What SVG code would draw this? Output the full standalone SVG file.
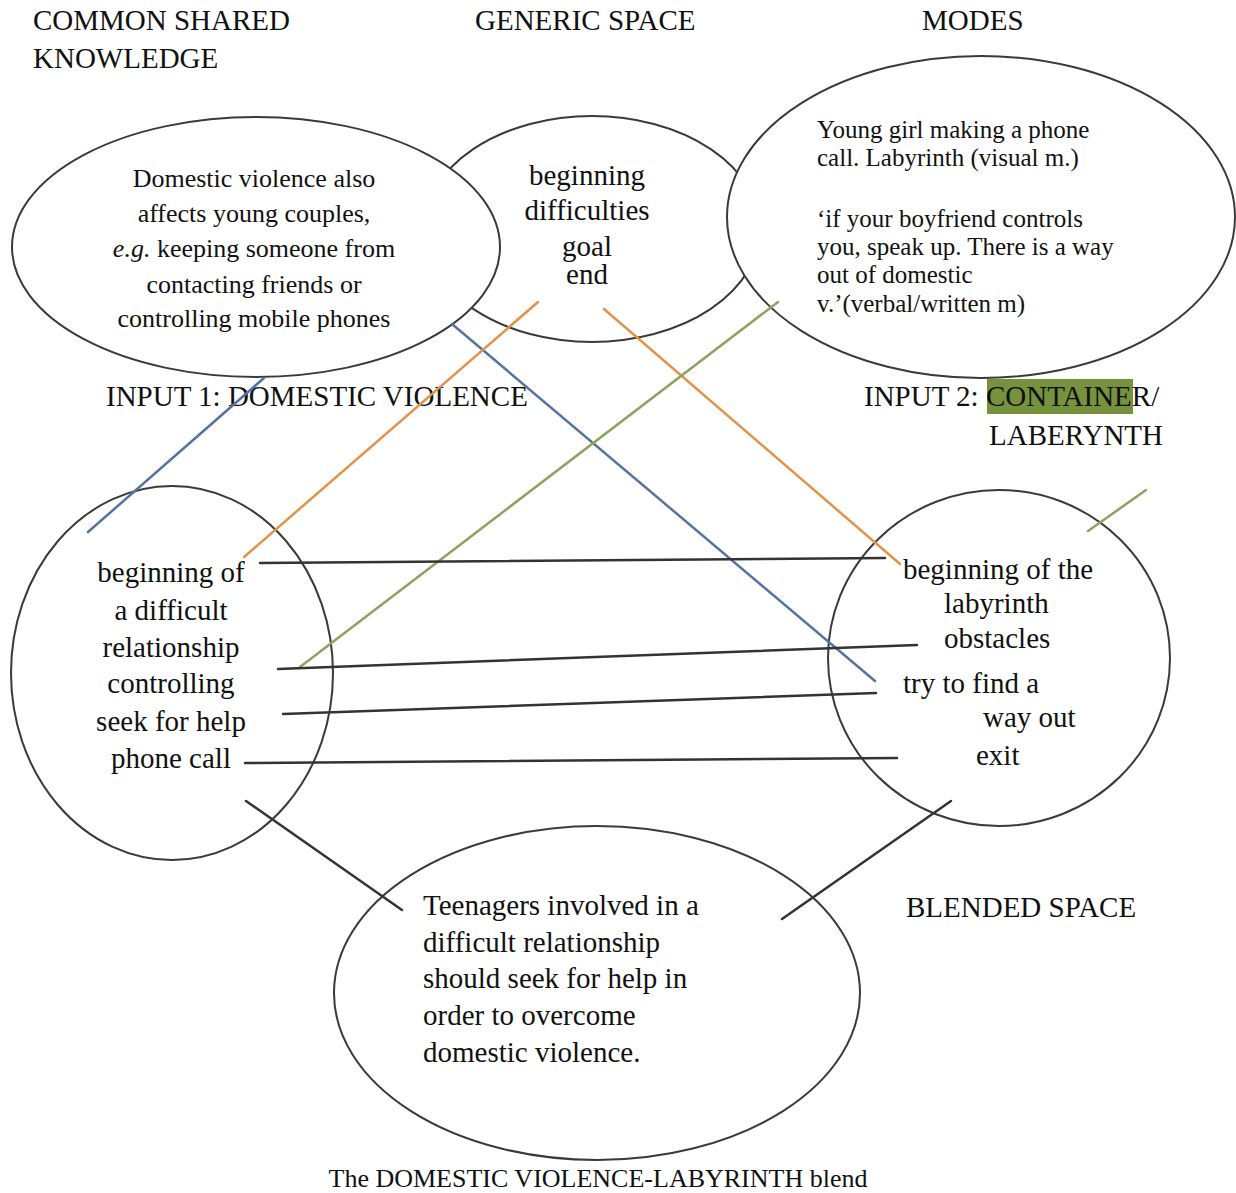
<svg xmlns="http://www.w3.org/2000/svg" width="1236" height="1193" viewBox="0 0 1236 1193">
  <style>
    text { font-family: "Liberation Serif", "Times New Roman", serif; fill: #111; }
    .h { font-size: 29px; }
    .t29 { font-size: 29px; }
    .t26 { font-size: 26px; }
    .t25 { font-size: 25px; }
    .mid { text-anchor: middle; }
    .space { fill: #fff; stroke: #3a3a3a; stroke-width: 2; }
    .link { fill: none; stroke: #333; stroke-width: 2.5; stroke-linecap: round; }
    .blue { stroke: #55739f; }
    .orange { stroke: #e3924a; }
    .green { stroke: #8fa25f; }
  </style>

  <rect width="1236" height="1193" fill="#fff"/>

  <!-- headings -->
  <g id="heading-common">
    <text class="h" x="33" y="30">COMMON SHARED</text>
    <text class="h" x="33" y="68">KNOWLEDGE</text>
  </g>
  <g id="heading-generic">
    <text class="h" x="475" y="30">GENERIC SPACE</text>
  </g>
  <g id="heading-modes">
    <text class="h" x="922" y="30">MODES</text>
  </g>

  <!-- generic space (drawn first so the inputs overlap it) -->
  <g id="generic-space">
    <ellipse class="space" cx="592" cy="229" rx="168" ry="113"/>
    <text class="t29 mid" x="587" y="185">beginning</text>
    <text class="t29 mid" x="587" y="220">difficulties</text>
    <text class="t29 mid" x="587" y="256">goal</text>
    <text class="t29 mid" x="587" y="284">end</text>
  </g>

  <!-- input 1: domestic violence -->
  <g id="input1">
    <ellipse class="space" cx="256" cy="247" rx="244" ry="130"/>
    <text class="t26 mid" x="254" y="187">Domestic violence also</text>
    <text class="t26 mid" x="254" y="222">affects young couples,</text>
    <text class="t26 mid" x="254" y="257"><tspan font-style="italic">e.g.</tspan> keeping someone from</text>
    <text class="t26 mid" x="254" y="293">contacting friends or</text>
    <text class="t26 mid" x="254" y="327">controlling mobile phones</text>
  </g>

  <!-- modes -->
  <g id="modes">
    <ellipse class="space" cx="981" cy="217" rx="254" ry="161"/>
    <text class="t25" x="817" y="138">Young girl making a phone</text>
    <text class="t25" x="817" y="166">call. Labyrinth (visual m.)</text>
    <text class="t25" x="817" y="227">‘if your boyfriend controls</text>
    <text class="t25" x="817" y="255">you, speak up. There is a way</text>
    <text class="t25" x="817" y="283">out of domestic</text>
    <text class="t25" x="817" y="312">v.’(verbal/written m)</text>
  </g>

  <!-- input labels -->
  <g id="label-input1">
    <text class="h" x="106" y="406">INPUT 1: DOMESTIC VIOLENCE</text>
  </g>
  <g id="label-input2">
    <rect x="987" y="379" width="146" height="35" fill="#76923c"/>
    <text class="h" x="864" y="406">INPUT 2: CONTAINER/</text>
    <text class="h" x="989" y="445">LABERYNTH</text>
  </g>

  <!-- input 1 elements -->
  <g id="input1-elements">
    <ellipse class="space" cx="172" cy="673" rx="161" ry="187"/>
    <text class="t29 mid" x="171" y="582">beginning of</text>
    <text class="t29 mid" x="171" y="620">a difficult</text>
    <text class="t29 mid" x="171" y="657">relationship</text>
    <text class="t29 mid" x="171" y="693">controlling</text>
    <text class="t29 mid" x="171" y="731">seek for help</text>
    <text class="t29 mid" x="171" y="768">phone call</text>
  </g>

  <!-- input 2 elements -->
  <g id="input2-elements">
    <ellipse class="space" cx="999" cy="658" rx="171" ry="168"/>
    <text class="t29" x="903" y="579">beginning of the</text>
    <text class="t29" x="944" y="613">labyrinth</text>
    <text class="t29" x="944" y="648">obstacles</text>
    <text class="t29" x="903" y="693">try to find a</text>
    <text class="t29" x="983" y="727">way out</text>
    <text class="t29" x="976" y="765">exit</text>
  </g>

  <!-- blended space -->
  <g id="blend">
    <ellipse class="space" cx="597" cy="993" rx="263" ry="167"/>
    <text class="t29" x="423" y="915">Teenagers involved in a</text>
    <text class="t29" x="423" y="952">difficult relationship</text>
    <text class="t29" x="423" y="988">should seek for help in</text>
    <text class="t29" x="423" y="1025">order to overcome</text>
    <text class="t29" x="423" y="1062">domestic violence.</text>
  </g>
  <g id="label-blend">
    <text class="h" x="906" y="917">BLENDED SPACE</text>
  </g>

  <!-- mappings between the spaces -->
  <g id="connectors">
    <line class="link blue" x1="88" y1="532" x2="264" y2="378"/>
    <line class="link blue" x1="452" y1="324" x2="875" y2="681"/>
    <line class="link orange" x1="538" y1="302" x2="244" y2="557"/>
    <line class="link orange" x1="604" y1="309" x2="900" y2="564"/>
    <line class="link green" x1="778" y1="302" x2="300" y2="667"/>
    <line class="link green" x1="1146" y1="490" x2="1088" y2="531"/>
    <line class="link" x1="260" y1="563" x2="885" y2="558"/>
    <line class="link" x1="278" y1="669" x2="917" y2="645"/>
    <line class="link" x1="283" y1="714" x2="876" y2="693"/>
    <line class="link" x1="245" y1="763" x2="897" y2="758"/>
    <line class="link" x1="246" y1="801" x2="402" y2="910"/>
    <line class="link" x1="782" y1="919" x2="951" y2="801"/>
  </g>

  <!-- caption -->
  <g id="caption">
    <text class="t26 mid" x="598" y="1187" font-size="26.5">The DOMESTIC VIOLENCE-LABYRINTH blend</text>
  </g>
</svg>
